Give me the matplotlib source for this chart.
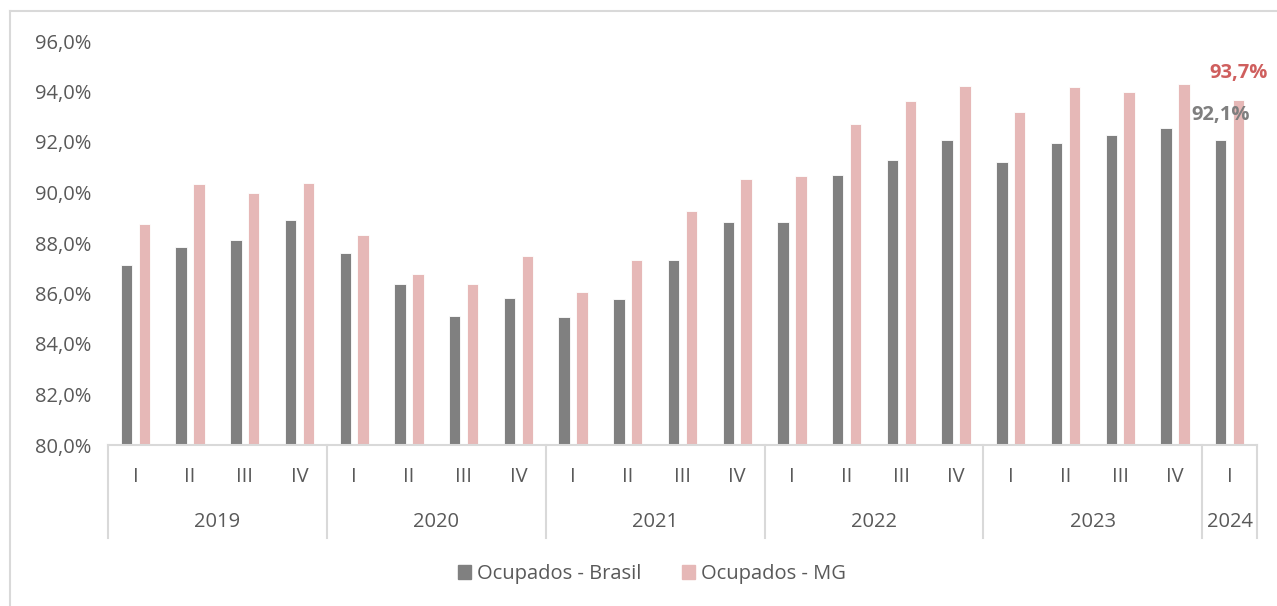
import numpy as np
import matplotlib.pyplot as plt
from matplotlib.patches import Patch
from matplotlib.transforms import blended_transform_factory

plt.rcParams['font.family'] = ['Open Sans', 'DejaVu Sans']

years = ['2019', '2020', '2021', '2022', '2023', '2024']
quarters_per_year = [4, 4, 4, 4, 4, 1]
quarter_names = ['I', 'II', 'III', 'IV']

brasil = [87.14, 87.84, 88.11, 88.91,
          87.59, 86.36, 85.10, 85.81,
          85.06, 85.77, 87.34, 88.82,
          88.82, 90.68, 91.30, 92.07,
          91.20, 91.96, 92.27, 92.57,
          92.07]
mg = [88.75, 90.34, 89.98, 90.39,
      88.30, 86.78, 86.36, 87.49,
      86.07, 87.34, 89.27, 90.53,
      90.64, 92.73, 93.64, 94.22,
      93.18, 94.19, 93.99, 94.30,
      93.68]

GRAY = '#808080'
PINK = '#E6B8B7'
TXT = '#595959'
LINE = '#D9D9D9'
FS = 14.5

W, H = 1277, 606
fig = plt.figure(figsize=(W / 100, H / 100), dpi=100)
ax = fig.add_axes([108 / W, 1 - 445 / H, (1257 - 108) / W, (445 - 41) / H])

n = len(brasil)
x = np.arange(n)
bw = 0.21
off = 0.163
ax.bar(x - off, brasil, bw, color=GRAY, edgecolor='white', linewidth=0.6)
ax.bar(x + off, mg, bw, color=PINK, edgecolor='white', linewidth=0.6)

ax.set_ylim(80, 96)
ax.set_xlim(-0.5, n - 0.5)
ticks = np.arange(80, 97, 2)
ax.set_yticks(ticks)
ax.set_yticklabels([f'{v:.1f}%'.replace('.', ',') for v in ticks])
ax.tick_params(axis='y', length=0, labelsize=FS, labelcolor=TXT, pad=12)
ax.set_xticks([])
for s in ['top', 'right', 'left']:
    ax.spines[s].set_visible(False)
ax.spines['bottom'].set_color(LINE)
ax.spines['bottom'].set_linewidth(1.5)

# last-quarter labels
ax.annotate(f'{brasil[-1]:.1f}%'.replace('.', ','), (x[-1] - off, brasil[-1]),
            xytext=(0, 18), textcoords='offset points', ha='center', va='center',
            fontsize=FS, fontweight='bold', color='#7F7F7F', annotation_clip=False)
ax.annotate(f'{mg[-1]:.1f}%'.replace('.', ','), (x[-1] + off, mg[-1]),
            xytext=(0, 19), textcoords='offset points', ha='center', va='center',
            fontsize=FS, fontweight='bold', color='#CF5F5E', annotation_clip=False)

# multi-level category axis
tr = blended_transform_factory(ax.transData, ax.transAxes)
ylo = -(538 - 445) / 404
start = 0
bounds = [-0.5]
for yr, nq in zip(years, quarters_per_year):
    for q in range(nq):
        ax.text(start + q, -(477 - 445) / 404, quarter_names[q], transform=tr,
                ha='center', va='center', fontsize=FS, color=TXT)
    ax.text(start + (nq - 1) / 2, -(522 - 445) / 404, yr, transform=tr,
            ha='center', va='center', fontsize=FS, color=TXT)
    start += nq
    bounds.append(start - 0.5)
for b in bounds:
    ax.plot([b, b], [0, ylo], transform=tr, color=LINE, lw=1.5, clip_on=False)

handles = [Patch(color=GRAY, label='Ocupados - Brasil'),
           Patch(color=PINK, label='Ocupados - MG')]
fig.legend(handles=handles, loc='center', bbox_to_anchor=(652 / W, 1 - 574 / H),
           ncol=2, frameon=False, fontsize=FS, labelcolor=TXT,
           handlelength=0.65, handleheight=0.65, handletextpad=0.3, columnspacing=2.0)

# outer border (top and left edges visible)
fig.add_artist(plt.Line2D([10 / W, 1], [1 - 11 / H, 1 - 11 / H], color=LINE, lw=1.5,
                          transform=fig.transFigure))
fig.add_artist(plt.Line2D([10 / W, 10 / W], [0, 1 - 11 / H], color=LINE, lw=1.5,
                          transform=fig.transFigure))

fig.savefig('out.png', dpi=100)
